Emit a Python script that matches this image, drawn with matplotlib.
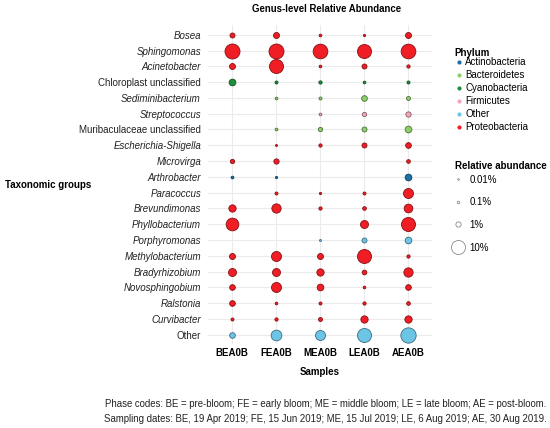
import numpy as np
import matplotlib
matplotlib.use("Agg")
import matplotlib.pyplot as plt
from matplotlib.lines import Line2D
from matplotlib.colors import to_rgb

plt.rcParams['font.family'] = ['Liberation Sans', 'DejaVu Sans']

samples = ["BEA0B", "FEA0B", "MEA0B", "LEA0B", "AEA0B"]
genera = ["Bosea", "Sphingomonas", "Acinetobacter", "Chloroplast unclassified",
          "Sediminibacterium", "Streptococcus", "Muribaculaceae unclassified",
          "Escherichia-Shigella", "Microvirga", "Arthrobacter", "Paracoccus",
          "Brevundimonas", "Phyllobacterium", "Porphyromonas", "Methylobacterium",
          "Bradyrhizobium", "Novosphingobium", "Ralstonia", "Curvibacter", "Other"]
italic = [True, True, True, False, True, True, False, True, True, True, True,
          True, True, True, True, True, True, True, True, False]
phylum = ["Proteobacteria", "Proteobacteria", "Proteobacteria", "Cyanobacteria",
          "Bacteroidetes", "Firmicutes", "Bacteroidetes", "Proteobacteria",
          "Proteobacteria", "Actinobacteria", "Proteobacteria", "Proteobacteria",
          "Proteobacteria", "Other", "Proteobacteria", "Proteobacteria",
          "Proteobacteria", "Proteobacteria", "Proteobacteria", "Other"]
nan = np.nan
# relative abundance (%) per genus, columns follow `samples`
abundance = [
    [0.88, 1.40, 0.14, 0.07, 1.40],
    [11.6, 11.6, 11.1, 10.0, 11.1],
    [1.40, 10.0, 0.14, 0.88, 0.27],
    [1.84, 0.20, 0.27, 0.14, 0.20],
    [nan, 0.14, 0.20, 1.23, 0.48],
    [nan, nan, 0.14, 0.59, 1.02],
    [nan, 0.14, 0.59, 0.88, 1.84],
    [nan, 0.04, 0.27, 0.88, 1.23],
    [0.59, 1.02, nan, nan, 0.38],
    [0.14, 0.07, nan, nan, 1.84],
    [nan, 0.20, 0.07, 0.20, 4.72],
    [2.27, 4.00, 0.27, 0.38, 3.43],
    [8.06, nan, nan, 2.82, 10.0],
    [nan, nan, 0.04, 0.88, 1.84],
    [1.40, 4.72, 1.40, 10.0, 0.27],
    [2.82, 2.82, 2.27, 0.75, 4.00],
    [1.23, 4.72, 1.84, 0.14, 1.23],
    [1.23, 0.14, 0.20, 0.27, 0.38],
    [0.20, 0.27, 0.48, 2.27, 2.27],
    [1.23, 5.50, 4.72, 10.0, 12.1],
]
phyla = ["Actinobacteria", "Bacteroidetes", "Cyanobacteria", "Firmicutes", "Other", "Proteobacteria"]
phylum_colors = ["#1a6fa8", "#8ccf6a", "#1d8f3a", "#f2a7b8", "#6cc5e4", "#f01e24"]
size_legend_vals = [0.01, 0.1, 1, 10]
size_legend_labels = ["0.01%", "0.1%", "1%", "10%"]

cmap = dict(zip(phyla, phylum_colors))

def diam_px(p):
    return 1.2 + 4.05 * np.sqrt(p)

def s_pt2(p):
    return (diam_px(p) * 0.72) ** 2

def darken(c, f=0.55):
    r, g, b = to_rgb(c)
    return (r * f, g * f, b * f)

fig = plt.figure(figsize=(5.5, 4.28), dpi=100)
ax = fig.add_axes([0.378, 0.196, 0.407, 0.745])

ab = np.array(abundance, dtype=float)
for i, g in enumerate(genera):
    for j in range(len(samples)):
        v = ab[i, j]
        if np.isnan(v):
            continue
        c = cmap[phylum[i]]
        ax.scatter(j, i, s=s_pt2(v), color=c, edgecolor=darken(c), linewidth=0.6, zorder=3)

ax.set_xlim(-0.54, 4.53)
ax.set_ylim(len(genera) - 1 + 0.6, -0.6)
ax.set_xticks(range(len(samples)))
ax.set_xticklabels(samples, fontweight='bold', fontsize=7)
ax.set_yticks(range(len(genera)))
ax.set_yticklabels(genera, fontsize=7, color='#222222')
for lab, it in zip(ax.get_yticklabels(), italic):
    if it:
        lab.set_style('italic')
ax.tick_params(length=0, pad=5)
ax.tick_params(axis='x', pad=2.5)
for sp in ax.spines.values():
    sp.set_visible(False)
ax.grid(True, color='#ebebeb', linewidth=0.8, zorder=0)
ax.set_axisbelow(True)

ax.set_xlabel("Samples", fontweight='bold', fontsize=7, labelpad=7)
fig.text(0.009, 0.568, "Taxonomic groups", fontweight='bold', fontsize=7, ha='left', va='center')
fig.text(0.594, 0.978, "Genus-level Relative Abundance", fontweight='bold', fontsize=6.9,
         ha='center', va='center')

fig.text(0.827, 0.876, "Phylum", fontweight='bold', fontsize=7, ha='left', va='center')
h1 = [Line2D([], [], marker='o', linestyle='', markersize=3, color=c, markeredgewidth=0)
      for c in phylum_colors]
leg1 = fig.legend(h1, phyla, loc='upper left', bbox_to_anchor=(0.829, 0.866), frameon=False,
                  fontsize=7, handlelength=0.6, handletextpad=0.35, labelspacing=0.3,
                  borderpad=0, borderaxespad=0)

fig.text(0.827, 0.612, "Relative abundance", fontweight='bold', fontsize=7, ha='left', va='center')
h2 = [Line2D([], [], marker='o', linestyle='', markersize=diam_px(v) * 0.72,
             markerfacecolor='white', markeredgecolor='#8a8a8a', markeredgewidth=0.6)
      for v in size_legend_vals]
leg2 = fig.legend(h2, size_legend_labels, loc='upper left', bbox_to_anchor=(0.82, 0.592),
                  frameon=False, fontsize=7, handlelength=1.5, handletextpad=0.4,
                  labelspacing=1.3, borderpad=0, borderaxespad=0)

fig.text(0.994, 0.056, "Phase codes: BE = pre-bloom; FE = early bloom; ME = middle bloom; LE = late bloom; AE = post-bloom.",
         fontsize=6.9, ha='right', va='center', color='#222222')
fig.text(0.994, 0.021, "Sampling dates: BE, 19 Apr 2019; FE, 15 Jun 2019; ME, 15 Jul 2019; LE, 6 Aug 2019; AE, 30 Aug 2019.",
         fontsize=6.9, ha='right', va='center', color='#222222')

fig.savefig("out.png", dpi=100)
